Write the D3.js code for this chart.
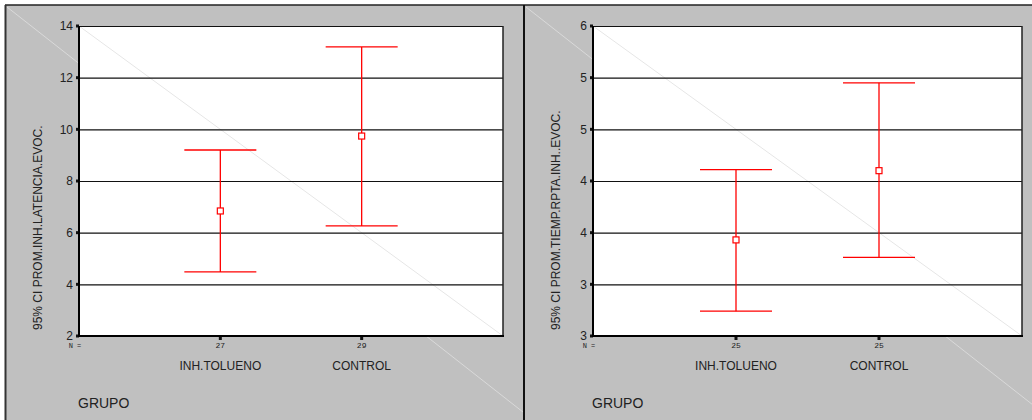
<!DOCTYPE html>
<html>
<head>
<meta charset="utf-8">
<script src="https://cdn.jsdelivr.net/npm/d3@7"></script>
<style>
  html, body { margin: 0; padding: 0; background: #ffffff; }
  svg { display: block; }
  text { font-family: "Liberation Sans", Arial, sans-serif; fill: #222; }
</style>
</head>
<body>
<svg id="chart" width="1032" height="420"></svg>
<script>
// Groups compared in both panels
const groups = ["INH.TOLUENO", "CONTROL"];

// Panel 1: PROM.INH.LATENCIA.EVOC. (mean and 95% CI)
const latCounts = [27, 29];
const latMean = [6.84, 9.74];
const latLow = [4.48, 6.26];
const latHigh = [9.20, 13.19];
const latTicks = [2, 4, 6, 8, 10, 12, 14];
const latTickLabels = ["2", "4", "6", "8", "10", "12", "14"];

// Panel 2: PROM.TIEMP.RPTA.INH..EVOC. (mean and 95% CI)
const rptaCounts = [25, 25];
const rptaMean = [3.93, 4.60];
const rptaLow = [3.24, 3.76];
const rptaHigh = [4.61, 5.45];
const rptaTicks = [3, 3.5, 4, 4.5, 5, 5.5, 6];
const rptaTickLabels = ["3", "3", "4", "4", "5", "5", "6"];

const svg = d3.select("#chart");

const panels = [
  {
    frame: [5, 5, 518, 430],
    plot: { left: 79, right: 503, top: 26, bottom: 336 },
    title: "95% CI PROM.INH.LATENCIA.EVOC.",
    titleX: 41.5,
    counts: latCounts, mean: latMean, low: latLow, high: latHigh,
    ticks: latTicks, tickLabels: latTickLabels,
    domain: [2, 14]
  },
  {
    frame: [524, 5, 520, 430],
    plot: { left: 593, right: 1022, top: 26, bottom: 336 },
    title: "95% CI PROM.TIEMP.RPTA.INH..EVOC.",
    titleX: 559.5,
    counts: rptaCounts, mean: rptaMean, low: rptaLow, high: rptaHigh,
    ticks: rptaTicks, tickLabels: rptaTickLabels,
    domain: [3, 6]
  }
];

panels.forEach(p => {
  const [fx, fy, fw, fh] = p.frame;
  const g = svg.append("g");

  // grey panel background
  g.append("rect").attr("x", fx).attr("y", fy).attr("width", fw).attr("height", fh)
    .attr("fill", "#c0c0c0");

  // faint panel diagonal
  g.append("line")
    .attr("x1", fx + 2).attr("y1", fy + 2)
    .attr("x2", fx + fw).attr("y2", fy + 2 + (fw - 2) * 0.785)
    .attr("stroke", "#d9d9d9").attr("stroke-width", 1);

  const P = p.plot;
  const y = d3.scaleLinear().domain(p.domain).range([P.bottom, P.top]);
  const x = d3.scalePoint().domain(groups).range([P.left, P.right]).padding(1);

  // white plot area
  g.append("rect").attr("x", P.left).attr("y", P.top)
    .attr("width", P.right - P.left).attr("height", P.bottom - P.top)
    .attr("fill", "#ffffff");

  // faint plot diagonal
  g.append("line")
    .attr("x1", P.left).attr("y1", P.top).attr("x2", P.right).attr("y2", P.bottom)
    .attr("stroke", "#e6e6e6").attr("stroke-width", 1);

  // horizontal gridlines + tick labels
  const yAxis = d3.axisLeft(y)
    .tickValues(p.ticks)
    .tickFormat((d, i) => p.tickLabels[i])
    .tickSize(-(P.right - P.left))
    .tickPadding(6);
  const ya = g.append("g").attr("transform", `translate(${P.left},0)`).call(yAxis);
  ya.select(".domain").remove();
  ya.selectAll(".tick line").attr("stroke", "#111").attr("stroke-width", 1.2);
  ya.selectAll(".tick text")
    .attr("font-family", "'Liberation Sans', Arial, sans-serif")
    .attr("font-size", 12).attr("fill", "#222");

  // small square tick markers on the value axis
  g.selectAll(".ysq").data(p.ticks).join("rect")
    .attr("x", P.left - 3).attr("y", d => y(d) - 1.5)
    .attr("width", 3).attr("height", 3).attr("fill", "#111");

  // plot frame: right edge thin, left and bottom heavy
  g.append("line").attr("x1", P.right).attr("x2", P.right)
    .attr("y1", P.top).attr("y2", P.bottom)
    .attr("stroke", "#222").attr("stroke-width", 1.5);
  g.append("line").attr("x1", P.left).attr("x2", P.left)
    .attr("y1", P.top).attr("y2", P.bottom + 1)
    .attr("stroke", "#000").attr("stroke-width", 2);
  g.append("line").attr("x1", P.left).attr("x2", P.right + 1)
    .attr("y1", P.bottom).attr("y2", P.bottom)
    .attr("stroke", "#000").attr("stroke-width", 2);

  // category tick squares under the axis
  g.selectAll(".xsq").data(groups).join("rect")
    .attr("x", d => x(d) - 1.5).attr("y", P.bottom + 1)
    .attr("width", 3).attr("height", 3).attr("fill", "#111");

  // N = counts row
  g.append("text").attr("x", P.left - 4).attr("y", P.bottom + 12)
    .attr("text-anchor", "middle")
    .style("font-family", "'Liberation Mono', 'Courier New', monospace")
    .attr("font-size", 7).attr("fill", "#333").text("N =");
  g.selectAll(".cnt").data(groups).join("text")
    .attr("x", d => x(d)).attr("y", P.bottom + 12)
    .attr("text-anchor", "middle")
    .style("font-family", "'Liberation Mono', 'Courier New', monospace")
    .attr("font-size", 8).attr("fill", "#333")
    .text((d, i) => p.counts[i]);

  // category labels
  g.selectAll(".cat").data(groups).join("text")
    .attr("x", d => x(d)).attr("y", P.bottom + 34)
    .attr("text-anchor", "middle").attr("font-size", 12)
    .text(d => d);

  // axis titles
  g.append("text").attr("x", P.left - 1).attr("y", 408)
    .attr("font-size", 14).text("GRUPO");
  g.append("text")
    .attr("transform", `translate(${p.titleX},${P.bottom - 6}) rotate(-90)`)
    .attr("font-size", 12).text(p.title);

  // error bars: CI whiskers with caps and an open square at the mean
  const capHalf = 36;
  const bars = g.selectAll(".bar").data(groups).join("g");
  bars.append("line")
    .attr("x1", d => x(d)).attr("x2", d => x(d))
    .attr("y1", (d, i) => y(p.low[i])).attr("y2", (d, i) => y(p.high[i]))
    .attr("stroke", "#ff0000").attr("stroke-width", 1.3);
  bars.append("line")
    .attr("x1", d => x(d) - capHalf).attr("x2", d => x(d) + capHalf)
    .attr("y1", (d, i) => y(p.high[i])).attr("y2", (d, i) => y(p.high[i]))
    .attr("stroke", "#ff0000").attr("stroke-width", 1.3);
  bars.append("line")
    .attr("x1", d => x(d) - capHalf).attr("x2", d => x(d) + capHalf)
    .attr("y1", (d, i) => y(p.low[i])).attr("y2", (d, i) => y(p.low[i]))
    .attr("stroke", "#ff0000").attr("stroke-width", 1.3);
  bars.append("rect")
    .attr("x", d => x(d) - 3).attr("y", (d, i) => y(p.mean[i]) - 3)
    .attr("width", 6).attr("height", 6)
    .attr("fill", "#ffffff").attr("stroke", "#ff0000").attr("stroke-width", 1.2);
});

// outer frame and divider
svg.append("line").attr("x1", 5).attr("x2", 1032).attr("y1", 5).attr("y2", 5)
  .attr("stroke", "#222").attr("stroke-width", 1.5);
svg.append("line").attr("x1", 5.5).attr("x2", 5.5).attr("y1", 5).attr("y2", 420)
  .attr("stroke", "#333").attr("stroke-width", 2);
svg.append("line").attr("x1", 524).attr("x2", 524).attr("y1", 5).attr("y2", 420)
  .attr("stroke", "#111").attr("stroke-width", 2);
</script>
</body>
</html>
